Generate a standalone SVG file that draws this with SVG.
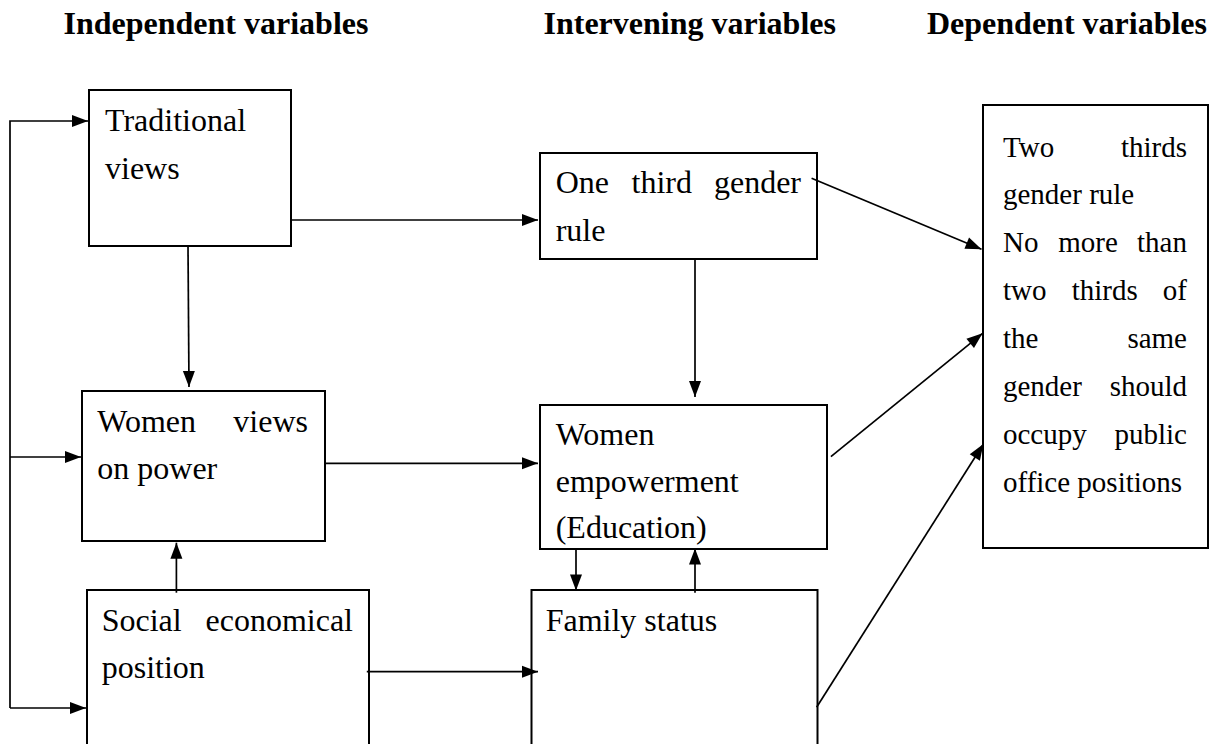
<svg xmlns="http://www.w3.org/2000/svg" width="1210" height="744" viewBox="0 0 1210 744">
<style>
  .hdr { font-family: "Liberation Serif", Tinos, "DejaVu Serif", serif; font-weight: bold; font-size: 32px; fill: #000; }
  .t { font-family: "Liberation Serif", Tinos, "DejaVu Serif", serif; font-size: 32px; fill: #000; }
  .ts { font-family: "Liberation Serif", Tinos, "DejaVu Serif", serif; font-size: 29px; fill: #000; }
  .box { fill: #fff; stroke: #000; stroke-width: 2; }
  .c { fill: none; stroke: #000; stroke-width: 1.7; }
</style>
<defs>
  <marker id="ah" markerUnits="userSpaceOnUse" markerWidth="18" markerHeight="14" refX="16" refY="6" orient="auto" overflow="visible">
    <path d="M0,0 L16,6 L0,12 z" fill="#000"/>
  </marker>
</defs>
<rect width="1210" height="744" fill="#fff"/>

<g id="headers">
  <text class="hdr" x="63.5" y="34">Independent variables</text>
  <text class="hdr" x="543.5" y="34">Intervening variables</text>
  <text class="hdr" x="927" y="34">Dependent variables</text>
</g>

<g id="node-traditional">
  <rect class="box" x="89" y="90" width="202" height="156"/>
  <text class="t" x="105" y="131">Traditional</text>
  <text class="t" x="105" y="179">views</text>
</g>

<g id="node-onethird">
  <rect class="box" x="540" y="153" width="277" height="106"/>
  <text class="t" x="555.7" y="193">One</text>
  <text class="t" x="631.5" y="193">third</text>
  <text class="t" x="801" y="193" text-anchor="end">gender</text>
  <text class="t" x="555.7" y="241">rule</text>
</g>

<g id="node-twothirds">
  <rect class="box" x="983" y="105" width="225" height="443"/>
  <text class="ts" x="1003" y="157">Two</text>
  <text class="ts" x="1187" y="157" text-anchor="end">thirds</text>
  <text class="ts" x="1003" y="204">gender rule</text>
  <text class="ts" x="1003" y="252">No</text>
  <text class="ts" x="1058.3" y="252">more</text>
  <text class="ts" x="1187" y="252" text-anchor="end">than</text>
  <text class="ts" x="1003" y="300">two</text>
  <text class="ts" x="1071.7" y="300">thirds</text>
  <text class="ts" x="1187" y="300" text-anchor="end">of</text>
  <text class="ts" x="1003" y="348">the</text>
  <text class="ts" x="1187" y="348" text-anchor="end">same</text>
  <text class="ts" x="1003" y="396">gender</text>
  <text class="ts" x="1187" y="396" text-anchor="end">should</text>
  <text class="ts" x="1003" y="444">occupy</text>
  <text class="ts" x="1187" y="444" text-anchor="end">public</text>
  <text class="ts" x="1003" y="492">office positions</text>
</g>

<g id="node-womenviews">
  <rect class="box" x="82" y="391" width="243" height="150"/>
  <text class="t" x="97.3" y="431.7">Women</text>
  <text class="t" x="308" y="431.7" text-anchor="end">views</text>
  <text class="t" x="97.3" y="479">on power</text>
</g>

<g id="node-empowerment">
  <rect class="box" x="540" y="405" width="287" height="144"/>
  <text class="t" x="555.7" y="445">Women</text>
  <text class="t" x="555.7" y="491.7">empowerment</text>
  <text class="t" x="555.7" y="538">(Education)</text>
</g>

<g id="node-social">
  <rect class="box" x="87" y="590" width="282" height="170"/>
  <text class="t" x="101.7" y="631">Social</text>
  <text class="t" x="353" y="631" text-anchor="end">economical</text>
  <text class="t" x="101.7" y="678">position</text>
</g>

<g id="node-family">
  <rect class="box" x="531.5" y="590" width="286" height="170"/>
  <text class="t" x="545.7" y="631">Family status</text>
</g>

<g id="connectors">
  <path class="c" d="M10,708 L10,121 L88,121" marker-end="url(#ah)"/>
  <path class="c" d="M10,457 L81,457" marker-end="url(#ah)"/>
  <path class="c" d="M10,708 L86,708" marker-end="url(#ah)"/>
  <path class="c" d="M291,220 L538,220" marker-end="url(#ah)"/>
  <path class="c" d="M188,246 L189,387" marker-end="url(#ah)"/>
  <path class="c" d="M176.4,592.7 L176.4,542.7" marker-end="url(#ah)"/>
  <path class="c" d="M325,463.3 L538,463.3" marker-end="url(#ah)"/>
  <path class="c" d="M695,259 L695,397" marker-end="url(#ah)"/>
  <path class="c" d="M576,549 L576,590.5" marker-end="url(#ah)"/>
  <path class="c" d="M695,592.7 L695,548.5" marker-end="url(#ah)"/>
  <path class="c" d="M366.8,671.7 L538,671.7" marker-end="url(#ah)"/>
  <path class="c" d="M811.6,178.3 L981.5,249.3" marker-end="url(#ah)"/>
  <path class="c" d="M830.9,456.7 L982.6,333.3" marker-end="url(#ah)"/>
  <path class="c" d="M816.6,707.3 L983.4,444" marker-end="url(#ah)"/>
</g>
</svg>
